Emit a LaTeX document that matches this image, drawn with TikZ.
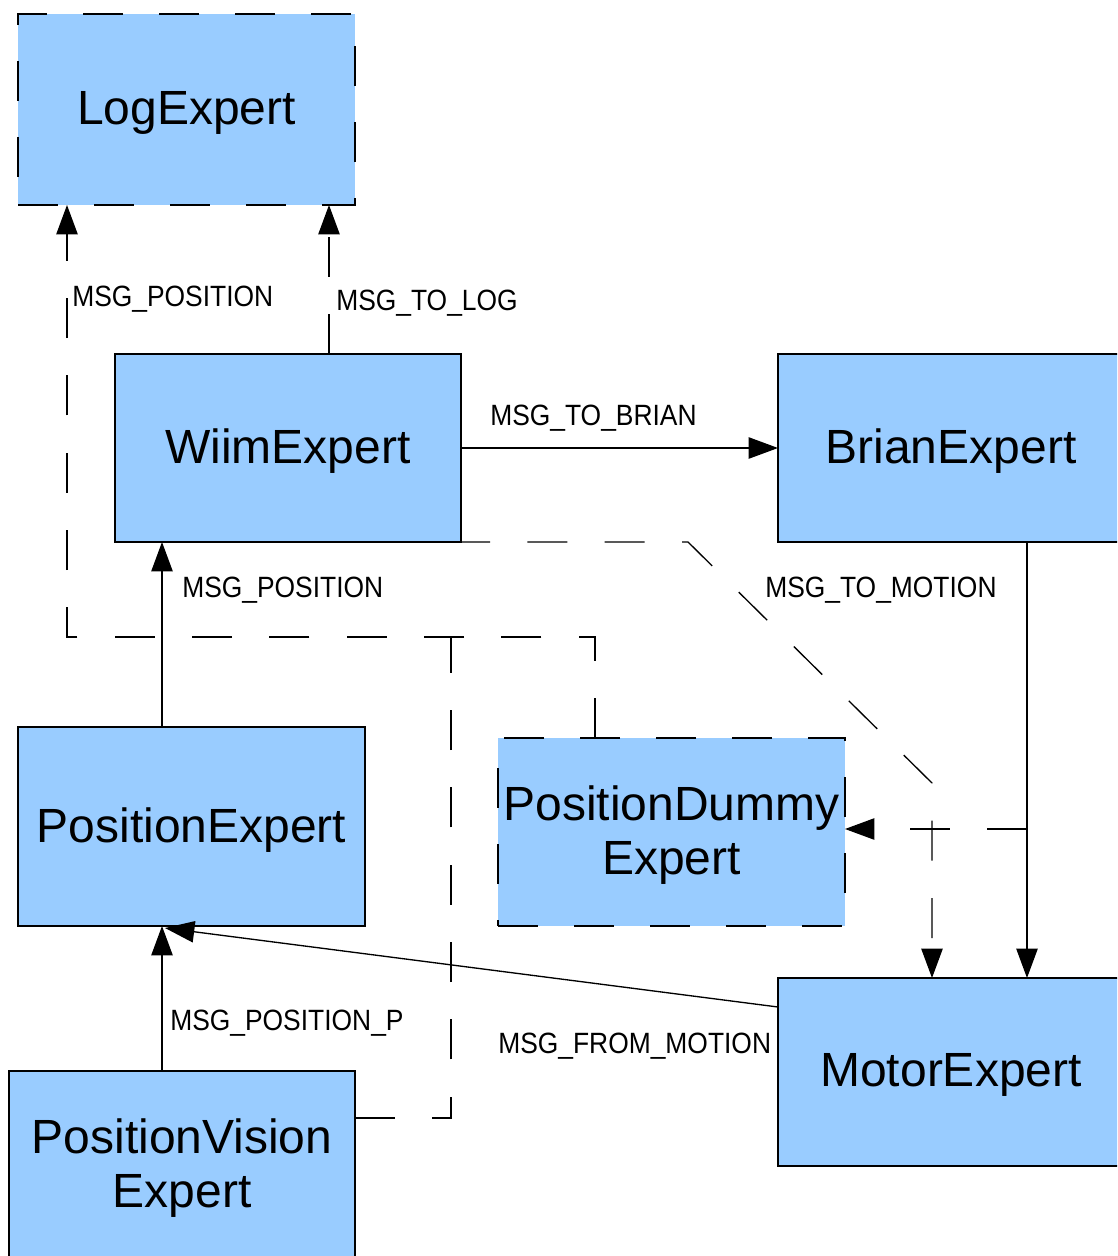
\documentclass[tikz,border=0pt]{standalone}
\usepackage{fontspec}
\setmainfont{Liberation Sans}
\newfontfamily\lblfont[FakeStretch=0.9]{Liberation Sans}
\usetikzlibrary{arrows.meta,calc}
\definecolor{boxblue}{HTML}{99CCFF}
\newcommand{\dnline}[1]{\raisebox{-2.4pt}[\height][\depth]{#1}}
\tikzset{
  expert/.style={draw=black, fill=boxblue, line width=1.1pt, inner sep=0pt, outer sep=0pt,
    align=center, font=\fontsize{36}{40}\selectfont},
  optexpert/.style={expert, dash pattern=on 30pt off 27pt},
  conn/.style={line width=1pt, -{Triangle[length=22pt,width=16pt]}},
  dconn/.style={conn, dash pattern=on 30pt off 28pt},
  dline/.style={line width=1pt, dash pattern=on 30pt off 28pt},
  lbl/.style={font=\lblfont\fontsize{22}{24}\selectfont, anchor=west, inner sep=0pt},
}
\begin{document}
\begin{tikzpicture}[x=0.75pt,y=-0.75pt]
\useasboundingbox (0,0) rectangle (1117,1256);
\fill[white] (0,0) rectangle (1117,1256);
\clip (0,0) rectangle (1117,1256);

% boxes
\node[optexpert, minimum width=252.75pt, minimum height=143.25pt] (log) at (186.5,109.5) {\dnline{LogExpert}};
\node[expert, minimum width=259.5pt, minimum height=141pt] (w) at (288,448) {\dnline{WiimExpert}};
\node[expert, minimum width=259.5pt, minimum height=141pt] (b) at (951,448) {\dnline{BrianExpert}};
\node[expert, minimum width=260.25pt, minimum height=149.25pt] (pe) at (191.5,826.5) {\dnline{PositionExpert}};
\node[optexpert, minimum width=260.25pt, minimum height=141pt] (pd) at (671.5,832) {\dnline{PositionDummy}\\\dnline{Expert}};
\node[expert, minimum width=259.5pt, minimum height=141pt] (m) at (951,1072) {\dnline{MotorExpert}};
\node[expert, minimum width=259.5pt, minimum height=141pt] (pv) at (182,1165) {\dnline{PositionVision}\\\dnline{Expert}};

% junction coordinates
\coordinate (j) at (451,637);
\coordinate (br) at (1027,829);

% connectors
\draw[dconn] ($(w.north west)+(214,0)$) -- ($(log.south west)+(311,0)$);
\draw[dconn] ($(pd.north west)+(97,0)$) -- ++(0,-101) -| ($(log.south west)+(49,0)$);
\draw[dline] ($(pv.north east)+(0,47)$) -| (j);
\draw[conn] (w.east) -- (b.west);
\draw[conn] ($(b.south west)+(249,0)$) -- ($(m.north west)+(249,0)$);
\draw[dconn] (br) -- (pd.east |- br);
\draw[dconn] ($(w.south east)+(-11,0)$) -- (688,542) -- (932,783) -- ($(m.north west)+(154,0)$);
\draw[conn] ($(pe.north west)+(144,0)$) -- ($(w.south west)+(47,0)$);
\draw[conn] ($(pv.north west)+(153,0)$) -- ($(pe.south west)+(144,0)$);
\draw[conn] ($(m.north west)+(0,29)$) -- ($(pe.south west)+(147,2)$);

% labels
\node[lbl] (l1) at (72,299) {MSG\_POSITION};
\node[lbl] (l2) at (336,303) {MSG\_TO\_LOG};
\node[lbl] (l3) at (490,418) {MSG\_TO\_BRIAN};
\node[lbl] (l4) at (182,590) {MSG\_POSITION};
\node[lbl] (l5) at (765,590) {MSG\_TO\_MOTION};
\node[lbl] (l6) at (170,1023) {MSG\_POSITION\_P};
\node[lbl] (l7) at (498,1046) {MSG\_FROM\_MOTION};
\end{tikzpicture}
\end{document}
